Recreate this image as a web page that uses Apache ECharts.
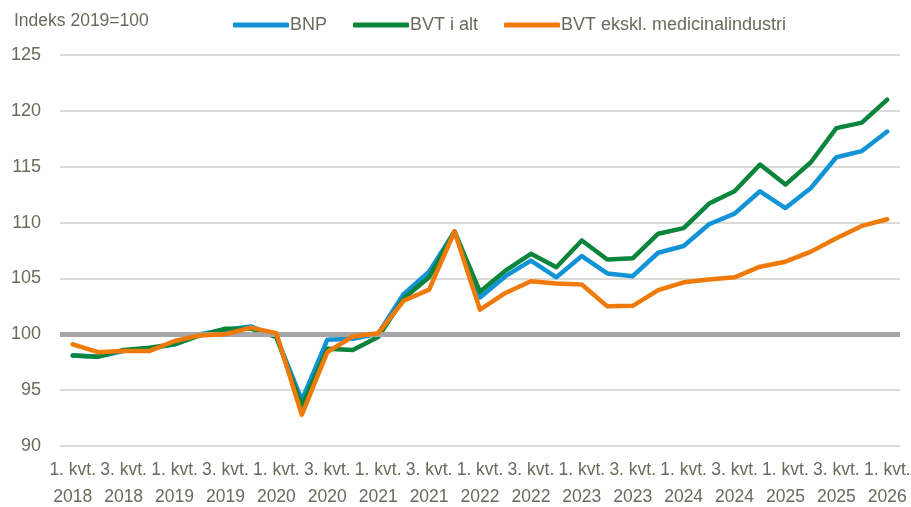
<!DOCTYPE html>
<html>
<head>
<meta charset="utf-8">
<script src="https://cdn.jsdelivr.net/npm/echarts@6/dist/echarts.min.js"></script>
<style>
  html, body { margin: 0; padding: 0; background: #fff; }
  #chart { width: 911px; height: 507px; }
</style>
</head>
<body>
<div id="chart"></div>
<script>
// kvartaler 1. kvt. 2018 - 1. kvt. 2026
var quarters = [];
for (var y = 2018; y <= 2026; y++) {
  for (var q = 1; q <= 4; q++) {
    if (y === 2026 && q > 1) break;
    quarters.push(q + '. kvt.\n' + y);
  }
}

var bnp = [98.1, 98.0, 98.5, 98.7, 99.1, 100.0, 100.4, 100.7, 99.8, 94.1, 99.5, 99.6, 100.05,
  103.6, 105.6, 109.2, 103.3, 105.2, 106.6, 105.1, 107.0, 105.45, 105.2, 107.3, 107.9,
  109.85, 110.8, 112.8, 111.3, 113.1, 115.85, 116.4, 118.15];
var bvtIAlt = [98.1, 98.0, 98.6, 98.8, 99.1, 99.9, 100.5, 100.5, 99.75, 93.6, 98.7, 98.6, 99.75,
  103.2, 105.1, 109.2, 103.8, 105.7, 107.2, 106.0, 108.4, 106.7, 106.8, 109.0, 109.5,
  111.7, 112.8, 115.2, 113.4, 115.4, 118.45, 118.95, 121.0];
var bvtEksMed = [99.1, 98.4, 98.5, 98.5, 99.4, 99.9, 100.0, 100.6, 100.1, 92.8, 98.4, 99.8, 100.1,
  103.0, 104.0, 109.2, 102.2, 103.7, 104.75, 104.55, 104.45, 102.5, 102.55, 103.95, 104.65,
  104.9, 105.1, 106.05, 106.5, 107.4, 108.6, 109.7, 110.3];

var seriesNames = ['BNP', 'BVT i alt', 'BVT ekskl. medicinalindustri'];

var font = "'Liberation Sans', Arial, sans-serif";
var textColor = '#6b6a5c';

var chart = echarts.init(document.getElementById('chart'));

function line(name, data, color, z) {
  return {
    name: name,
    type: 'line',
    data: data,
    symbol: 'none',
    z: z,
    lineStyle: { width: 4.5, color: color, cap: 'round', join: 'round' },
    itemStyle: { color: color }
  };
}

var series = [
  line(seriesNames[0], bnp, '#1193d6', 3),
  line(seriesNames[1], bvtIAlt, '#0b853b', 4),
  line(seriesNames[2], bvtEksMed, '#ef7a0a', 5)
];
// 100-linjen
series[0].markLine = {
  silent: true,
  symbol: 'none',
  label: { show: false },
  lineStyle: { color: '#a6a6a6', width: 5, type: 'solid' },
  data: [{ yAxis: 100 }]
};

chart.setOption({
  animation: false,
  textStyle: { fontFamily: font },
  title: {
    text: 'Indeks 2019=100',
    left: 9,
    top: 7,
    textStyle: { fontSize: 17.5, fontWeight: 'normal', color: textColor, fontFamily: font }
  },
  legend: {
    data: seriesNames,
    left: 228,
    top: 11,
    itemWidth: 56,
    itemHeight: 5,
    itemGap: 26,
    icon: 'roundRect',
    textStyle: { fontSize: 18, color: textColor, fontFamily: font, padding: [0, 0, 0, -4] }
  },
  grid: { left: 60, right: 11, top: 55, bottom: 61, outerBoundsMode: 'none', containLabel: false },
  xAxis: {
    type: 'category',
    data: quarters,
    boundaryGap: true,
    axisLine: { show: false },
    axisTick: { show: false },
    axisLabel: {
      interval: 1,
      fontSize: 17.5,
      lineHeight: 27,
      color: textColor,
      fontFamily: font,
      margin: 11
    }
  },
  yAxis: {
    type: 'value',
    min: 90,
    max: 125,
    interval: 5,
    axisLine: { show: false },
    axisTick: { show: false },
    axisLabel: { fontSize: 18, color: textColor, fontFamily: font, margin: 19 },
    splitLine: { lineStyle: { color: '#cfcfc7', width: 1.5 } }
  },
  series: series
});
</script>
</body>
</html>
